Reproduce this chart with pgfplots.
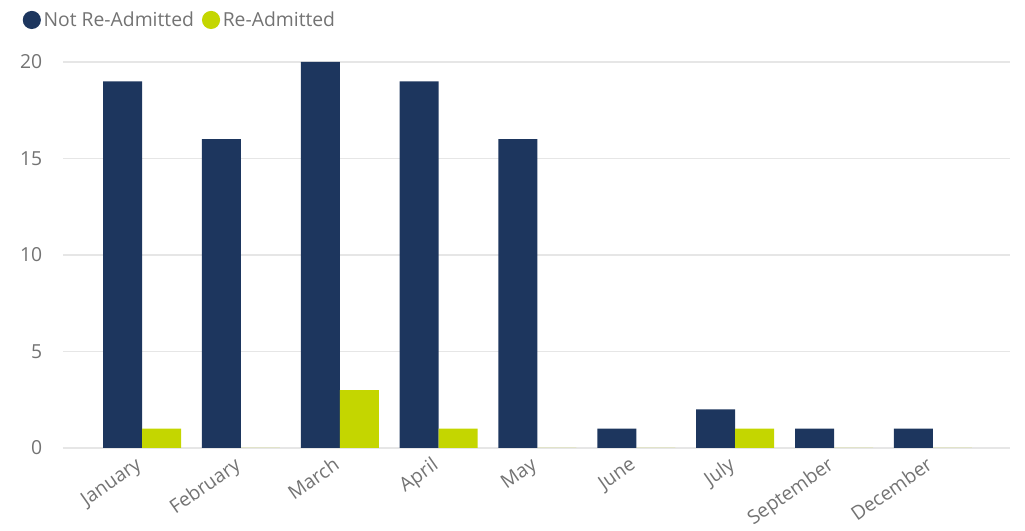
\documentclass[border=0pt]{standalone}
\usepackage{pgfplots}
\pgfplotsset{compat=1.18}
\usepackage{fontspec}
\setmainfont{Open Sans}
\definecolor{navy}{HTML}{1D365E}
\definecolor{lime}{HTML}{C4D600}
\definecolor{txt}{HTML}{737373}
\definecolor{gridc}{HTML}{E6E6E6}
\begin{document}
\begin{tikzpicture}
\begin{axis}[
  name=ax,
  scale only axis,
  width=710.25pt, height=289.5pt,
  ybar=0pt, bar width=29.25pt,
  xmin=-0.80, xmax=8.78,
  ymin=0, ymax=20,
  xtick=data,
  xticklabels={January,February,March,April,May,June,July,September,December},
  ytick={0,5,10,15,20},
  axis x line*=bottom, axis y line*=left,
  y axis line style={draw=none},
  x axis line style={draw=gridc, line width=1pt},
  ymajorgrids, grid style={draw=gridc, line width=0.8pt},
  major tick length=0pt,
  tick label style={font=\fontsize{14.5}{17}\selectfont, text=txt},
  /pgf/number format/assume math mode=true,
  yticklabel style={xshift=-12pt},
  xticklabel style={rotate=35, anchor=north east, inner sep=1pt, xshift=-7pt, yshift=-0.5pt},
  legend columns=2,
  legend style={at={(-0.047,1.145)}, anchor=north west, draw=none, fill=none,
    font=\fontsize{14.5}{17}\selectfont, text=txt,
    /tikz/every even column/.append style={column sep=4pt}},
  legend image code/.code={\fill[#1] (3pt,0pt) circle (6.8pt);},
  clip=false,
]
\addplot[fill=navy, draw=none] coordinates {(0,19) (1,16) (2,20) (3,19) (4,16) (5,1) (6,2) (7,1) (8,1)};
\addplot[fill=lime, draw=none] coordinates {(0,1) (1,0) (2,3) (3,1) (4,0) (5,0) (6,1) (7,0) (8,0)};
\legend{Not Re-Admitted,Re-Admitted}
\end{axis}
\useasboundingbox ([xshift=-47.25pt,yshift=-59.25pt]ax.south west) rectangle ([xshift=721.5pt,yshift=336pt]ax.south west);
\end{tikzpicture}
\end{document}
